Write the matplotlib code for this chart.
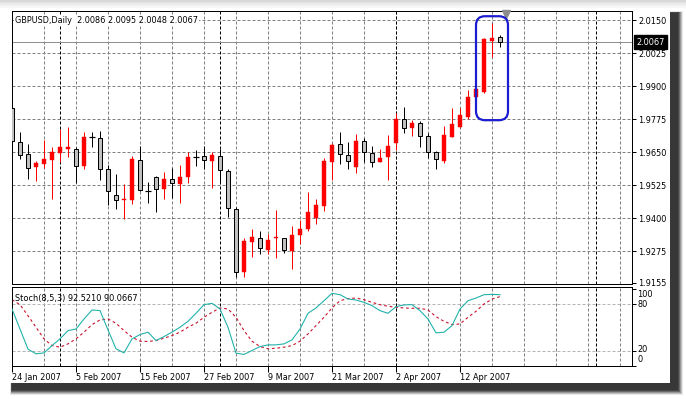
import matplotlib
matplotlib.use("Agg")
import matplotlib.pyplot as plt
from matplotlib.patches import Rectangle, FancyBboxPatch
from matplotlib.transforms import IdentityTransform, blended_transform_factory
import numpy as np

# ---------------- data ----------------
title_text = "GBPUSD,Daily  2.0086 2.0095 2.0048 2.0067"
stoch_text = "Stoch(8,5,3) 92.5210 90.0667"

opens = [1.9818, 1.9690, 1.9644, 1.9596, 1.9607, 1.9622, 1.9649, 1.9664, 1.9661, 1.9599,
         1.9707, 1.9703, 1.9586, 1.9487, 1.9471, 1.9469, 1.9620, 1.9505, 1.9558, 1.9511,
         1.9548, 1.9530, 1.9558, 1.9633, 1.9635, 1.9616, 1.9635, 1.9579, 1.9434, 1.9198,
         1.9311, 1.9324, 1.9280, 1.9326, 1.9324, 1.9277, 1.9338, 1.9358, 1.9401, 1.9447,
         1.9613, 1.9680, 1.9641, 1.9596, 1.9692, 1.9649, 1.9615, 1.9631, 1.9686, 1.9776,
         1.9741, 1.9760, 1.9712, 1.9650, 1.9618, 1.9709, 1.9747, 1.9782, 1.9861, 1.9880,
         2.0073, 2.0086]
highs = [1.9837, 1.9726, 1.9681, 1.9617, 1.9697, 1.9669, 1.9738, 1.9747, 1.9671, 1.9726,
         1.9726, 1.9730, 1.9602, 1.9568, 1.9530, 1.9636, 1.9675, 1.9539, 1.9560, 1.9575,
         1.9592, 1.9602, 1.9650, 1.9659, 1.9675, 1.9650, 1.9663, 1.9587, 1.9444, 1.9325,
         1.9360, 1.9352, 1.9339, 1.9432, 1.9327, 1.9371, 1.9394, 1.9501, 1.9473, 1.9630,
         1.9686, 1.9726, 1.9688, 1.9718, 1.9704, 1.9674, 1.9661, 1.9716, 1.9798, 1.9821,
         1.9772, 1.9769, 1.9722, 1.9655, 1.9751, 1.9817, 1.9819, 1.9886, 1.9894, 2.0083,
         2.0139, 2.0095]
lows = [1.9640, 1.9624, 1.9550, 1.9543, 1.9589, 1.9474, 1.9615, 1.9631, 1.9535, 1.9586,
        1.9669, 1.9545, 1.9450, 1.9436, 1.9399, 1.9453, 1.9503, 1.9459, 1.9425, 1.9474,
        1.9476, 1.9459, 1.9533, 1.9599, 1.9587, 1.9514, 1.9538, 1.9406, 1.9177, 1.9179,
        1.9255, 1.9266, 1.9264, 1.9249, 1.9268, 1.9208, 1.9303, 1.9352, 1.9380, 1.9427,
        1.9545, 1.9607, 1.9586, 1.9571, 1.9612, 1.9596, 1.9613, 1.9544, 1.9659, 1.9724,
        1.9712, 1.9669, 1.9630, 1.9587, 1.9610, 1.9707, 1.9744, 1.9776, 1.9858, 1.9874,
        2.0011, 2.0048]
closes = [1.9693, 1.9640, 1.9589, 1.9611, 1.9625, 1.9651, 1.9669, 1.9670, 1.9599, 1.9709,
          1.9707, 1.9586, 1.9502, 1.9468, 1.9473, 1.9625, 1.9506, 1.9505, 1.9510, 1.9549,
          1.9533, 1.9555, 1.9632, 1.9633, 1.9620, 1.9641, 1.9582, 1.9438, 1.9198, 1.9314,
          1.9329, 1.9286, 1.9318, 1.9328, 1.9280, 1.9336, 1.9360, 1.9424, 1.9450, 1.9618,
          1.9679, 1.9643, 1.9616, 1.9692, 1.9650, 1.9613, 1.9627, 1.9675, 1.9776, 1.9741,
          1.9760, 1.9712, 1.9652, 1.9625, 1.9716, 1.9757, 1.9791, 1.9860, 1.9890, 2.0078,
          2.0082, 2.0067]

stoch_main = [74, 48, 21.9, 15.8, 17, 26.5, 35.2, 45.9, 48, 61,
              72.7, 71.9, 46.8, 22.3, 17, 35.2, 40.8, 43.9, 33, 38.2,
              43.9, 50.3, 58, 68.4, 79.6, 81.3, 74, 50.3, 16.7, 15,
              20.1, 25.2, 27.4, 27.4, 28.7, 33.9, 48, 68.4, 75.3, 84.7,
              94.3, 92.5, 87, 85.6, 82.6, 78.3, 71.8, 68.4, 77, 79.2,
              79.6, 71.8, 61, 43, 43.9, 52.4, 74, 84.7, 88.2, 92.5,
              92.9, 92.52]
stoch_signal = [86, 79.6, 65.3, 50.3, 35.2, 26.5, 24.4, 28.7, 35.2, 43.9,
                53.7, 59.8, 61, 55.5, 45.9, 37.4, 32.2, 31.8, 33, 36.1,
                39.5, 43.9, 50.3, 55.5, 63.2, 69.7, 75.3, 74, 63.2, 45.9,
                32.2, 25.2, 22.3, 23.1, 24.4, 26.5, 32.2, 41.6, 52.4, 63.2,
                75.3, 84.7, 87.5, 88.2, 86, 82.6, 79.6, 77.5, 76.2, 75.3,
                74.9, 74.9, 72.7, 64, 58, 53.7, 54.6, 63.2, 71, 80.5,
                86.8, 90.07]

date_labels = ["24 Jan 2007", "5 Feb 2007", "15 Feb 2007", "27 Feb 2007",
               "9 Mar 2007", "21 Mar 2007", "2 Apr 2007", "12 Apr 2007"]
date_label_bars = [0, 8, 16, 24, 32, 40, 48, 56]
month_separator_bars = [6, 26, 48, 73]
price_levels = [2.0150, 2.0025, 1.9900, 1.9775, 1.9650, 1.9525, 1.9400, 1.9275, 1.9155]
last_price = 2.0067
stoch_levels = [80, 20]
stoch_labels = ["100", "80", "20", "0"]
highlight_bars = [59, 60, 61]

# ---------------- style ----------------
FS = 5.9
PX = 0.72  # one pixel in points
GRID = "#808080"
BULL = "#ff0000"
BEAR_FILL = "#c0c0c0"
W, H = 686, 399

plt.rcParams['font.family'] = ['DejaVu Sans']
fig = plt.figure(figsize=(W / 100, H / 100), dpi=100)
fig.patch.set_facecolor("white")


def px_rect(x0, y0, x1, y1, **kw):
    r = Rectangle((x0, H - y1), x1 - x0, y1 - y0, transform=IdentityTransform(),
                  linewidth=0, zorder=-20, **kw)
    fig.add_artist(r)
    return r

# window frame with soft shadow
for k, g in enumerate(["#d9d9d9", "#e3e3e3", "#ebebeb", "#f2f2f2", "#f7f7f7"]):
    px_rect(0, k * 1.6, W, k * 1.6 + 1.6, fc=g)
for k, al in enumerate([0.12, 0.2, 0.3, 0.45, 0.6, 0.8]):
    off = 6 - k
    px_rect(12 - off * 0.3, 13 - off * 0.3, 677 + off, 389 + off, fc="#333333", alpha=al)
px_rect(7, 8, 670, 383, fc="white")

ax = fig.add_axes([12 / W, 1 - 284 / H, 620 / W, 273 / H])
axs = fig.add_axes([12 / W, 1 - 366 / H, 620 / W, 79 / H])

x = np.arange(len(opens))
xmax = 77.5
for a in (ax, axs):
    a.set_xlim(0, xmax)
    for sp in a.spines.values():
        sp.set_color("black")
        sp.set_linewidth(PX)
    for b in range(0, 80, 4):
        a.axvline(b, color=GRID, lw=PX, ls=(0, (3, 2)), zorder=0.5)
    for b in month_separator_bars:
        a.axvline(b, color="black", lw=PX, ls=(0, (3, 2)), zorder=0.6)

# ---------------- main panel ----------------
ax.set_ylim(1.91512, 2.01853)
for lv in price_levels[:-1]:
    ax.axhline(lv, color=GRID, lw=PX, ls=(0, (3, 2)), zorder=0.5)
ax.axhline(last_price, color="#909090", lw=PX, zorder=0.7)

px_price = (2.01853 - 1.91512) / 273
for i in x:
    o, h, l, c = opens[i], highs[i], lows[i], closes[i]
    if c > o:
        ax.vlines(i, l, h, color=BULL, lw=PX, zorder=2)
        ax.bar(i, max(c - o, px_price), bottom=o, width=0.62, color=BULL,
               edgecolor=BULL, linewidth=0.3, zorder=3)
    elif c < o:
        ax.vlines(i, l, h, color="black", lw=PX, zorder=2)
        ax.bar(i, o - c, bottom=c, width=0.55, color=BEAR_FILL,
               edgecolor="black", linewidth=PX, zorder=3)
    else:
        ax.vlines(i, l, h, color="black", lw=PX, zorder=2)
        ax.hlines(o, i - 0.36, i + 0.36, color="black", lw=PX * 1.2, zorder=3)

ax.set_xticks([])
ax.yaxis.tick_right()
ax.set_yticks(price_levels)
ax.set_yticklabels([f"{p:.4f}" for p in price_levels], fontsize=FS)
ax.tick_params(axis="y", length=3, width=PX, pad=1.5, colors="black")

ax.text(3 / 620, 2.0150, title_text, transform=blended_transform_factory(ax.transAxes, ax.transData),
        fontsize=FS, va="center", ha="left", zorder=5,
        bbox=dict(facecolor="white", edgecolor="none", pad=0.6))

ax.text(1 + 4.5 / 620, last_price, f"{last_price:.4f}",
        transform=blended_transform_factory(ax.transAxes, ax.transData),
        fontsize=FS, va="center", ha="left", color="white", zorder=6, clip_on=False,
        bbox=dict(boxstyle="square,pad=0.3", facecolor="black", edgecolor="black"))

# chart shift marker
ax.plot([(506 - 12) / 620], [(284 - 13.5) / 273], marker="v", markersize=6,
        color="#8c8c8c", transform=ax.transAxes, clip_on=False, zorder=6)

# ---------------- stochastic panel ----------------
axs.set_ylim(0.26, 102.5)
for lv in stoch_levels:
    axs.axhline(lv, color="#b4b4b4", lw=PX, ls=(0, (3, 2)), zorder=0.5)
axs.plot(x, stoch_main, color="#20b2aa", lw=PX * 1.1, zorder=3)
axs.plot(x, stoch_signal, color="#c8102a", lw=PX * 1.1, ls=(0, (2.5, 2.5)), zorder=2.5)
axs.text(3 / 620, (366 - 299) / 79, stoch_text, transform=axs.transAxes,
         fontsize=FS, va="center", ha="left", zorder=5)

axs.yaxis.tick_right()
axs.set_yticks([100, 80, 20, 0])
axs.set_yticklabels([])
axs.tick_params(axis="y", length=3, width=PX, colors="black")
label_vals = [93, 80, 21, 9]
for lab, v in zip(stoch_labels, label_vals):
    axs.text(1 + 5 / 620, v, lab, transform=blended_transform_factory(axs.transAxes, axs.transData),
             fontsize=FS, va="center", ha="left", clip_on=False)

axs.set_xticks(date_label_bars)
axs.set_xticklabels(date_labels, fontsize=FS, ha="left")
axs.tick_params(axis="x", length=4, width=PX, pad=1.2, colors="black")

# ---------------- highlight box ----------------
x0d, y0d = ax.transData.transform((min(highlight_bars) - 1, min(lows[b] for b in highlight_bars)))
x1d, y1d = ax.transData.transform((max(highlight_bars) + 1, max(highs[b] for b in highlight_bars)))
y0d -= 27
y1d += 7
hb = FancyBboxPatch((x0d, y0d), x1d - x0d, y1d - y0d,
                    boxstyle="round,pad=0,rounding_size=9", transform=IdentityTransform(),
                    facecolor="none", edgecolor="#1c1cd0", linewidth=1.6, zorder=10)
fig.add_artist(hb)

fig.savefig("out.png", dpi=100, facecolor=fig.get_facecolor())
